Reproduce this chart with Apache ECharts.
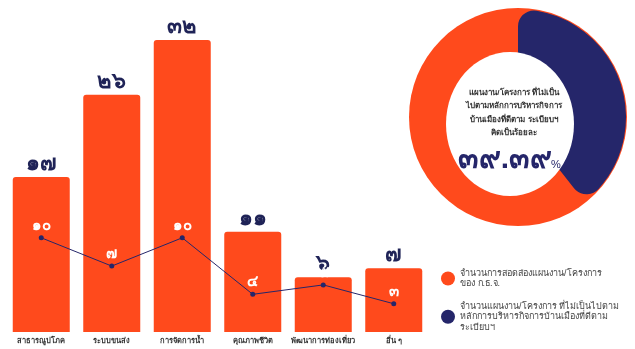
<!DOCTYPE html>
<html>
<head>
<meta charset="utf-8">
<script src="https://cdn.jsdelivr.net/npm/echarts@6/dist/echarts.min.js"></script>
<style>
  html, body { margin: 0; padding: 0; background: #fff; }
  #main { width: 635px; height: 349px; }
</style>
</head>
<body>
<div id="main"></div>
<script>
// ข้อมูล
var categories = ['สาธารณูปโภค', 'ระบบขนส่ง', 'การจัดการน้ำ', 'คุณภาพชีวิต', 'พัฒนาการท่องเที่ยว', 'อื่น ๆ'];
var barValues = [17, 26, 32, 11, 6, 7];
var lineValues = [10, 7, 10, 4, 5, 3];
var pieShare = 39.39;
var barName = 'จำนวนการสอดส่องแผนงาน/โครงการ ของ ก.ธ.จ.';
var lineName = 'จำนวนแผนงาน/โครงการ ที่ไม่เป็นไปตามหลักการบริหารกิจการบ้านเมืองที่ดีตามระเบียบฯ';
var centerLines = ['แผนงาน/โครงการ ที่ไม่เป็น', 'ไปตามหลักการบริหารกิจการ', 'บ้านเมืองที่ดีตาม ระเบียบฯ', 'คิดเป็นร้อยละ'];

var ORANGE = '#ff4a1c';
var NAVY = '#25266a';
var FONT = 'sans-serif';

function thaiNum(v) {
  return String(v).replace(/\d/g, function (d) { return '๐๑๒๓๔๕๖๗๘๙'[d]; });
}

var myChart = echarts.init(document.getElementById('main'));
myChart.setOption({
  animation: false,
  grid: { left: 6, width: 423, top: 40, bottom: 17 },
  legend: {
    orient: 'vertical',
    left: 436,
    top: 263,
    itemGap: 12,
    itemWidth: 14,
    itemHeight: 14,
    icon: 'circle',
    data: [barName, lineName],
    formatter: function (name) {
      if (name === barName) return 'จำนวนการสอดส่องแผนงาน/โครงการ\nของ ก.ธ.จ.';
      return 'จำนวนแผนงาน/โครงการ ที่ไม่เป็นไปตาม\nหลักการบริหารกิจการบ้านเมืองที่ดีตาม\nระเบียบฯ';
    },
    textStyle: { fontSize: 9, color: '#444', lineHeight: 10.5, fontFamily: FONT }
  },
  xAxis: {
    type: 'category',
    data: categories,
    axisLine: { show: false },
    axisTick: { show: false },
    axisLabel: { fontSize: 7.5, fontWeight: 'bold', color: '#333', margin: 5, interval: 0, fontFamily: FONT }
  },
  yAxis: [
    { type: 'value', min: 0, max: 32, show: false },
    { type: 'value', min: 0, max: 31, show: false }
  ],
  graphic: [
    // รูตรงกลางโดนัท
    {
      type: 'ellipse',
      shape: { cx: 510, cy: 124, rx: 64, ry: 72 },
      style: { fill: '#fff' },
      silent: true,
      z: 90
    },
    {
      type: 'text',
      x: 514, y: 86,
      style: {
        text: centerLines.join('\n'),
        align: 'center',
        font: 'bold 8px ' + FONT,
        lineHeight: 13.5,
        fill: '#333'
      },
      z: 100
    },
    {
      type: 'text',
      x: 505, y: 160,
      style: {
        text: thaiNum(pieShare.toFixed(2)),
        align: 'center',
        verticalAlign: 'middle',
        font: 'bold 30px ' + FONT,
        fill: NAVY
      },
      z: 100
    },
    {
      type: 'text',
      x: 551, y: 165,
      style: {
        text: '%',
        align: 'left',
        verticalAlign: 'middle',
        font: '11px ' + FONT,
        fill: NAVY
      },
      z: 100
    }
  ],
  series: [
    {
      name: barName,
      type: 'bar',
      data: barValues,
      barWidth: 57,
      itemStyle: { color: ORANGE, borderRadius: [3, 3, 0, 0] },
      label: {
        show: true,
        position: 'top',
        distance: 2,
        fontSize: 22,
        fontWeight: 'bold',
        color: '#1f2357',
        fontFamily: FONT,
        formatter: function (p) { return thaiNum(p.value); }
      }
    },
    {
      name: lineName,
      type: 'line',
      yAxisIndex: 1,
      data: lineValues,
      symbol: 'circle',
      symbolSize: 5,
      lineStyle: { color: NAVY, width: 1 },
      itemStyle: { color: NAVY },
      label: {
        show: true,
        position: 'top',
        distance: 2,
        fontSize: 15,
        fontWeight: 'bold',
        color: '#fff',
        fontFamily: FONT,
        formatter: function (p) { return thaiNum(p.value); }
      },
      z: 5
    },
    {
      type: 'pie',
      center: [518, 117],
      radius: [0, 109],
      silent: true,
      label: { show: false },
      labelLine: { show: false },
      data: [{ value: 100, itemStyle: { color: ORANGE } }]
    },
    {
      type: 'pie',
      center: [518, 117],
      radius: [48, 108],
      startAngle: 90,
      silent: true,
      label: { show: false },
      labelLine: { show: false },
      z: 3,
      data: [
        { value: pieShare, itemStyle: { color: NAVY, borderRadius: 16 } },
        { value: 100 - pieShare, itemStyle: { color: 'rgba(0,0,0,0)' } }
      ]
    }
  ]
});
</script>
</body>
</html>
